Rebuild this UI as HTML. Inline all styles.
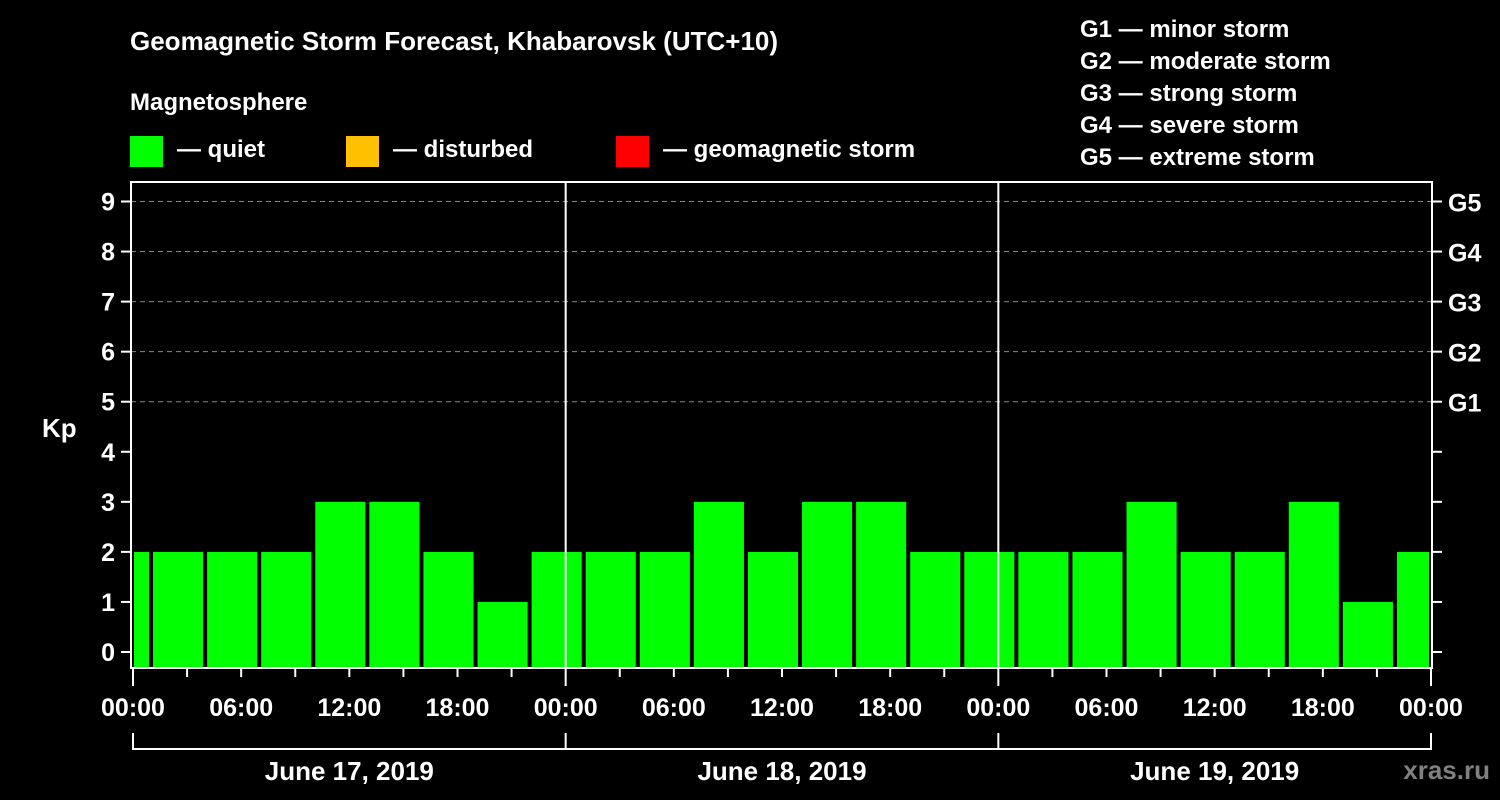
<!DOCTYPE html>
<html><head><meta charset="utf-8"><style>
html,body{margin:0;padding:0;background:#000;width:1500px;height:800px;overflow:hidden}
svg text{font-family:"Liberation Sans",Arial,sans-serif;font-weight:bold;fill:#fff}
</style></head><body>
<svg id="c" width="1500" height="800">
<text x="130" y="50" font-size="26">Geomagnetic Storm Forecast, Khabarovsk (UTC+10)</text>
<text x="130" y="110" font-size="24">Magnetosphere</text>
<rect x="130" y="136" width="33" height="31" fill="#00ff00"/>
<text x="177" y="157" font-size="24">— quiet</text>
<rect x="346" y="136" width="33" height="31" fill="#ffc000"/>
<text x="393" y="157" font-size="24">— disturbed</text>
<rect x="616" y="136" width="33" height="31" fill="#ff0000"/>
<text x="663" y="157" font-size="24">— geomagnetic storm</text>
<g font-size="24">
<text x="1080" y="37">G1 — minor storm</text>
<text x="1080" y="69">G2 — moderate storm</text>
<text x="1080" y="101">G3 — strong storm</text>
<text x="1080" y="133">G4 — severe storm</text>
<text x="1080" y="165">G5 — extreme storm</text>
</g>
<text x="42" y="437" font-size="26">Kp</text>
<text x="1490" y="779" font-size="26" text-anchor="end" style="fill:#808080">xras.ru</text>
<g id="plot"></g>
</svg>
<script>
const kpValues=[2,2,2,2,3,3,2,1,2,2,2,3,2,3,3,2,2,2,2,3,2,2,3,1,2];
const firstBarStartHour=-2;
const barHours=3;
const yTicks=[0,1,2,3,4,5,6,7,8,9];
const gLabels=["G1","G2","G3","G4","G5"];
const gLevels=[5,6,7,8,9];
const timeLabels=["00:00","06:00","12:00","18:00","00:00","06:00","12:00","18:00","00:00","06:00","12:00","18:00","00:00"];
const dateLabels=["June 17, 2019","June 18, 2019","June 19, 2019"];
const NS="http://www.w3.org/2000/svg";
const L=131,R=1432,T=182,B=668;
const x=h=>133+h*(1431-133)/72;
const y=v=>652-v*(652-201.5)/9;
const g=document.getElementById('plot');
function mk(t,a){const e=document.createElementNS(NS,t);for(const k in a)e.setAttribute(k,a[k]);g.appendChild(e);return e;}
yTicks.forEach(v=>{
 if(v>0&&v>=5){const l=mk('line',{x1:L,x2:R,y1:y(v),y2:y(v),stroke:'#888','stroke-dasharray':'5,4','stroke-width':1});
 
 }
 const t1=mk('line',{x1:L-10,x2:L,y1:y(v),y2:y(v),stroke:'#fff','stroke-width':2});
 
 
 const t2=mk('line',{x1:R,x2:R+10,y1:y(v),y2:y(v),stroke:'#fff','stroke-width':2});
 
 
 const tx=mk('text',{x:L-16,y:y(v)+9,'font-size':25,'text-anchor':'end'});tx.textContent=v;
 
 
});
gLevels.forEach((v,i)=>{const t=mk('text',{x:1448,y:y(v)+10,'font-size':25});t.textContent=gLabels[i];
 
 });
kpValues.forEach((v,i)=>{
 let h0=firstBarStartHour+i*barHours,h1=h0+barHours;
 let x0=Math.max(x(h0)+2,L+3),x1=Math.min(x(h1)-2,R-3);
 const c=v>=5?'#ff0000':(v>=4?'#ffc000':'#00ff00');
 const r=mk('rect',{x:x0,y:y(v),width:x1-x0,height:B-y(v),fill:c});
 
 
});
[24,48].forEach(h=>{const l=mk('line',{x1:x(h),x2:x(h),y1:T,y2:B,stroke:'#fff','stroke-width':2});
 
 });
const fr=mk('rect',{x:L,y:T,width:R-L,height:B-T,fill:'none',stroke:'#fff','stroke-width':2});


for(let h=0;h<=72;h+=3){
 const major=h%24==0;
 const tk=mk('line',{x1:x(h),x2:x(h),y1:B,y2:B+(major?18:9),stroke:'#fff','stroke-width':2});
 
 
}
timeLabels.forEach((s,i)=>{const t=mk('text',{x:x(i*6),y:716,'font-size':25,'text-anchor':'middle'});t.textContent=s;
 
 });
const br=mk('polyline',{points:`${x(0)},733 ${x(0)},749 ${x(72)},749 ${x(72)},733`,fill:'none',stroke:'#fff','stroke-width':2});


[24,48].forEach(h=>{const l=mk('line',{x1:x(h),x2:x(h),y1:733,y2:749,stroke:'#fff','stroke-width':2});
 
 });
dateLabels.forEach((s,i)=>{const t=mk('text',{x:x(i*24+12),y:780,'font-size':26,'text-anchor':'middle'});t.textContent=s;
 
 });
</script>
</body></html>
